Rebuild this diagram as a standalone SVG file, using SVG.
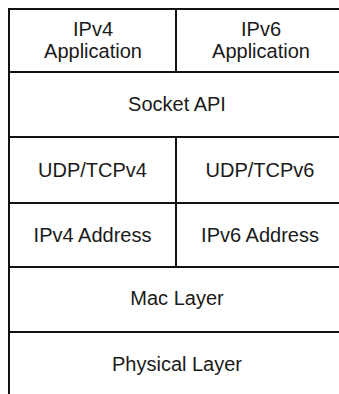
<svg xmlns="http://www.w3.org/2000/svg" width="339" height="394" viewBox="0 0 339 394">
<style>
.g{stroke:#111;stroke-width:2;fill:none}
.t{font-family:"Liberation Sans",Arial,sans-serif;font-size:20px;fill:#1a1a1a;text-anchor:middle}
</style>
<rect width="339" height="394" fill="#fff"/>
<g id="grid">
<line class="g" x1="9" y1="9" x2="9" y2="394"/>
<line class="g" x1="8" y1="9" x2="339" y2="9"/>
<line class="g" x1="8" y1="72" x2="339" y2="72"/>
<line class="g" x1="8" y1="137" x2="339" y2="137"/>
<line class="g" x1="8" y1="203" x2="339" y2="203"/>
<line class="g" x1="8" y1="267" x2="339" y2="267"/>
<line class="g" x1="8" y1="332" x2="339" y2="332"/>
<line class="g" x1="176" y1="9" x2="176" y2="72"/>
<line class="g" x1="176" y1="137" x2="176" y2="267"/>
</g>
<g id="ipv4-app"><text class="t" x="93" y="36">IPv4</text><text class="t" x="93" y="58">Application</text></g>
<g id="ipv6-app"><text class="t" x="261" y="36">IPv6</text><text class="t" x="261" y="58">Application</text></g>
<g id="socket-api"><text class="t" x="177" y="111">Socket API</text></g>
<g id="udp-tcp4"><text class="t" x="92.5" y="177">UDP/TCPv4</text></g>
<g id="udp-tcp6"><text class="t" x="260" y="177">UDP/TCPv6</text></g>
<g id="ipv4-addr"><text class="t" x="92.5" y="241.5">IPv4 Address</text></g>
<g id="ipv6-addr"><text class="t" x="260" y="241.5">IPv6 Address</text></g>
<g id="mac"><text class="t" x="177" y="305">Mac Layer</text></g>
<g id="phy"><text class="t" x="177" y="371">Physical Layer</text></g>
</svg>
